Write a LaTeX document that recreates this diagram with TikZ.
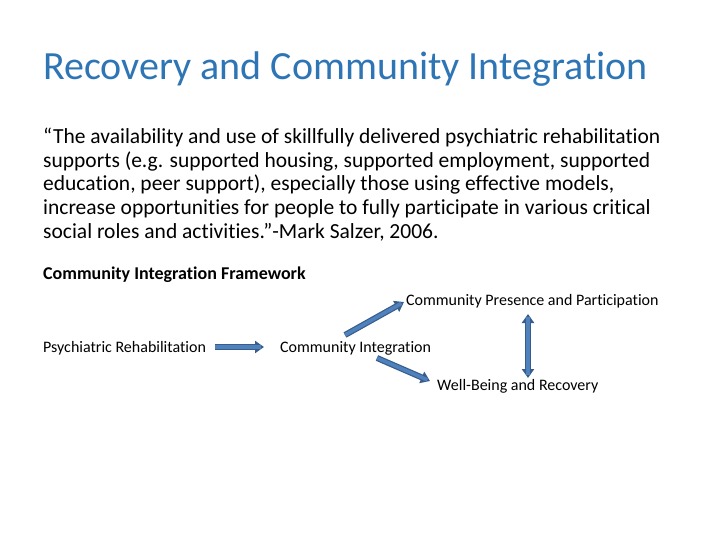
\documentclass[tikz,border=0pt]{standalone}
\usepackage{fontspec}
\setmainfont[RawFeature=-liga]{Carlito}
\usetikzlibrary{arrows.meta}
\definecolor{titleblue}{HTML}{2E75B6}
\definecolor{arrfill}{HTML}{4F81BD}
\definecolor{arredge}{HTML}{385D8A}
\begin{document}
\begin{tikzpicture}[x=1pt,y=-1pt,
  lbl/.style={anchor=base west,inner sep=0pt,font=\fontsize{16}{18}\selectfont},
  barrow/.style={draw=arredge,line width=6pt,-{Triangle[length=9pt,width=12pt]},
    postaction={draw=arrfill,line width=3.6pt,shorten >=3pt,-}},
  dbarrow/.style={draw=arredge,line width=6pt,{Triangle[length=9pt,width=12pt]}-{Triangle[length=9pt,width=12pt]},
    postaction={draw=arrfill,line width=3.6pt,shorten >=3pt,shorten <=3pt,-}}]
\useasboundingbox (0,0) rectangle (720,540);
\node[anchor=base west,inner sep=0pt,text=titleblue,font=\fontsize{40}{48}\selectfont] (title) at (43,80) {Recovery and Community Integration};
\node[anchor=north west,inner sep=0pt,align=left,font=\fontsize{21.5}{23.6}\selectfont] (quote) at (43,128)
{“The availability and use of skillfully delivered psychiatric rehabilitation\\ supports (e.g. supported housing, supported employment, supported\\ education, peer support), especially those using effective models,\\ increase opportunities for people to fully participate in various critical\\ social roles and activities.”-Mark Salzer, 2006.};
\node[lbl,font=\bfseries\fontsize{18}{20}\selectfont] (fw) at (43,279) {Community Integration Framework};
\node[lbl] (cpp) at (406,305) {Community Presence and Participation};
\node[lbl] (pr) at (43,352) {Psychiatric Rehabilitation};
\node[lbl] (ci) at (280,352) {Community Integration};
\node[lbl] (wb) at (437,390) {Well-Being and Recovery};
\coordinate (a1s) at (215,347); \coordinate (a1e) at (264,347);
\coordinate (a2s) at (345,335); \coordinate (a2e) at (404,302);
\coordinate (a3s) at (377,358); \coordinate (a3e) at (430,381);
\coordinate (a4s) at (528,314); \coordinate (a4e) at (528,378);
\draw[barrow] (a1s) -- (a1e);
\draw[barrow] (a2s) -- (a2e);
\draw[barrow] (a3s) -- (a3e);
\draw[dbarrow] (a4s) -- (a4e);
\end{tikzpicture}
\end{document}
